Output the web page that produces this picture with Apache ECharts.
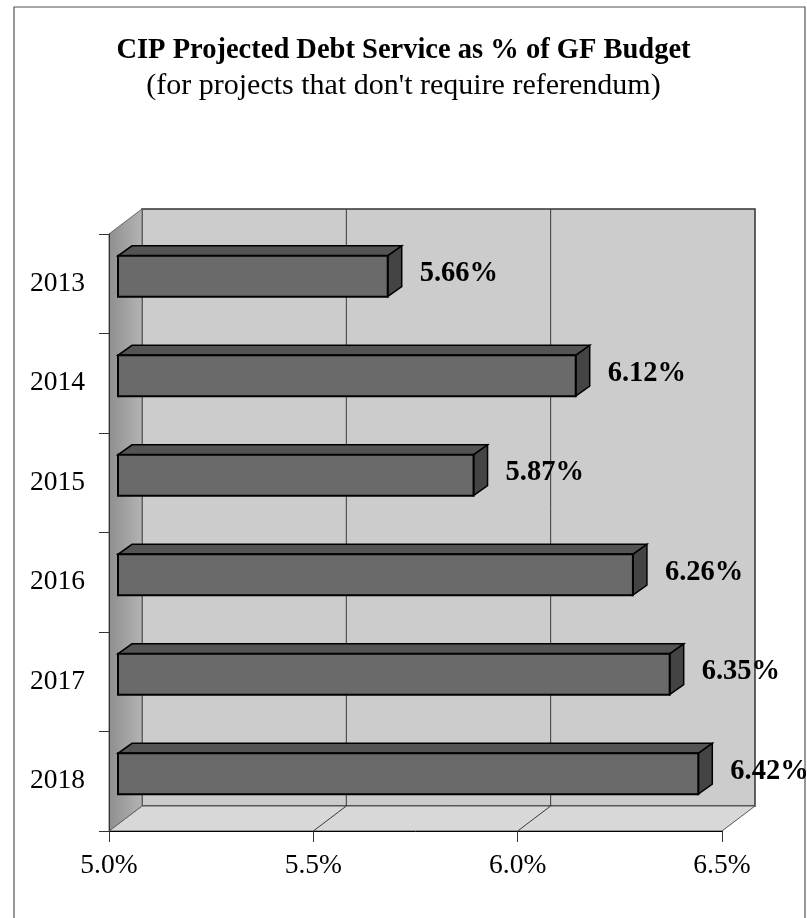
<!DOCTYPE html>
<html>
<head>
<meta charset="utf-8">
<title>CIP Projected Debt Service as % of GF Budget</title>
<script src="https://cdn.jsdelivr.net/npm/echarts@6/dist/echarts.min.js"></script>
<style>
  html, body { margin: 0; padding: 0; background: #ffffff; }
  #chart { width: 807px; height: 918px; }
</style>
</head>
<body>
<div id="chart"></div>
<script>
// Fiscal years and projected debt service (% of General Fund budget)
const years = ['2013', '2014', '2015', '2016', '2017', '2018'];
const debtServicePct = [5.66, 6.12, 5.87, 6.26, 6.35, 6.42];

// Value axis ticks
const xMin = 5.0;
const xMax = 6.5;
const xStep = 0.5;

// Plot layout (front plane of the 3-D box) and depth projection
const GRID = { left: 109, right: 85, top: 234, bottom: 87 };
const DEPTH = [33, -25];         // front plane -> back wall
const BAR_FRONT = [9, -7.5];     // bar front face inside the box
const BAR_DEPTH = [14, -10];     // bar thickness in depth
const FONT = '"Liberation Serif", "Times New Roman", serif';

const chart = echarts.init(document.getElementById('chart'));

function renderBar(params, api) {
  const v = api.value(0);
  const c = api.value(1);
  const start = api.coord([xMin, c]);
  const end = api.coord([v, c]);
  const band = api.size([0, 1])[1];
  const h = band * 0.41;
  const x0 = start[0] + BAR_FRONT[0];
  const x1 = end[0] + BAR_FRONT[0];
  const yc = start[1] + BAR_FRONT[1];
  const y0 = yc - h / 2;
  const y1 = yc + h / 2;
  const dx = BAR_DEPTH[0], dy = BAR_DEPTH[1];
  return {
    type: 'group',
    children: [
      {
        type: 'polygon',
        shape: { points: [[x0, y0], [x1, y0], [x1 + dx, y0 + dy], [x0 + dx, y0 + dy]] },
        style: { fill: '#545454', stroke: '#000', lineWidth: 1.5 }
      },
      {
        type: 'polygon',
        shape: { points: [[x1, y0], [x1 + dx, y0 + dy], [x1 + dx, y1 + dy], [x1, y1]] },
        style: { fill: '#444444', stroke: '#000', lineWidth: 1.5 }
      },
      {
        type: 'rect',
        shape: { x: x0, y: y0, width: x1 - x0, height: h },
        style: { fill: '#6a6a6a', stroke: '#000', lineWidth: 2 }
      },
      {
        type: 'text',
        style: {
          text: v.toFixed(2) + '%',
          x: end[0] + 41,
          y: start[1] - 10,
          verticalAlign: 'middle',
          align: 'left',
          font: 'bold 28.5px ' + FONT,
          fill: '#000'
        }
      }
    ]
  };
}

chart.setOption({
  animation: false,
  backgroundColor: '#ffffff',
  title: {
    text: 'CIP Projected Debt Service as % of GF Budget',
    subtext: "(for projects that don't require referendum)",
    left: 'center',
    top: 31,
    itemGap: 6,
    textStyle: { fontFamily: FONT, fontSize: 28.5, fontWeight: 'bold', color: '#000' },
    subtextStyle: { fontFamily: FONT, fontSize: 30, fontWeight: 'normal', color: '#000' }
  },
  grid: { left: GRID.left, right: GRID.right, top: GRID.top, bottom: GRID.bottom, containLabel: false },
  xAxis: {
    type: 'value',
    min: xMin,
    max: xMax,
    interval: xStep,
    axisLine: { show: true, lineStyle: { color: '#000', width: 1 } },
    axisTick: { show: true, length: 11, lineStyle: { color: '#333' } },
    splitLine: { show: false },
    axisLabel: {
      margin: 21,
      fontFamily: FONT,
      fontSize: 27.5,
      color: '#000',
      formatter: v => v.toFixed(1) + '%'
    }
  },
  yAxis: {
    type: 'category',
    data: years,
    inverse: true,
    axisLine: { show: true, lineStyle: { color: '#333', width: 1 } },
    axisTick: { show: true, length: 10, lineStyle: { color: '#333' } },
    axisLabel: { margin: 24, fontFamily: FONT, fontSize: 27.5, color: '#000' }
  },
  series: [{
    type: 'custom',
    renderItem: renderBar,
    encode: { x: 0, y: 1 },
    data: debtServicePct.map((v, i) => [v, i]),
    z: 5
  }]
});

// Walls, floor and back-wall gridlines of the 3-D box
function drawBox() {
  const W = chart.getWidth(), H = chart.getHeight();
  const fl = GRID.left, fr = W - GRID.right, ft = GRID.top, fb = H - GRID.bottom;
  const [ddx, ddy] = DEPTH;
  const bl = fl + ddx, br = fr + ddx, bt = ft + ddy, bb = fb + ddy;
  const els = [];
  // outer chart frame
  els.push({ type: 'rect', z: -20, shape: { x: 14, y: 7, width: 791, height: 930 },
    style: { fill: 'none', stroke: '#555', lineWidth: 1.2 } });
  // back wall
  els.push({ type: 'rect', z: -10, shape: { x: bl, y: bt, width: br - bl, height: bb - bt },
    style: { fill: '#cccccc', stroke: '#333', lineWidth: 1.5 } });
  // floor
  els.push({ type: 'polygon', z: -9, shape: { points: [[fl, fb], [fr, fb], [br, bb], [bl, bb]] },
    style: { fill: '#d8d8d8', stroke: '#555', lineWidth: 1 } });
  // left side wall
  els.push({ type: 'polygon', z: -8, shape: { points: [[fl, ft], [bl, bt], [bl, bb], [fl, fb]] },
    style: {
      fill: new echarts.graphic.LinearGradient(0, 0, 1, 0, [
        { offset: 0, color: '#8e8e8e' }, { offset: 1, color: '#b4b4b4' }
      ]),
      stroke: '#666', lineWidth: 1
    } });
  // gridlines at inner ticks: up the back wall and across the floor
  for (let t = xMin + xStep; t < xMax - 1e-9; t += xStep) {
    const px = chart.convertToPixel({ xAxisIndex: 0 }, t);
    els.push({ type: 'line', z: -7, shape: { x1: px + ddx, y1: bt, x2: px + ddx, y2: bb },
      style: { stroke: '#3a3a3a', lineWidth: 1 } });
    els.push({ type: 'line', z: -7, shape: { x1: px, y1: fb, x2: px + ddx, y2: bb },
      style: { stroke: '#3a3a3a', lineWidth: 1 } });
  }
  chart.setOption({ graphic: { elements: els } });
}
drawBox();
</script>
</body>
</html>
